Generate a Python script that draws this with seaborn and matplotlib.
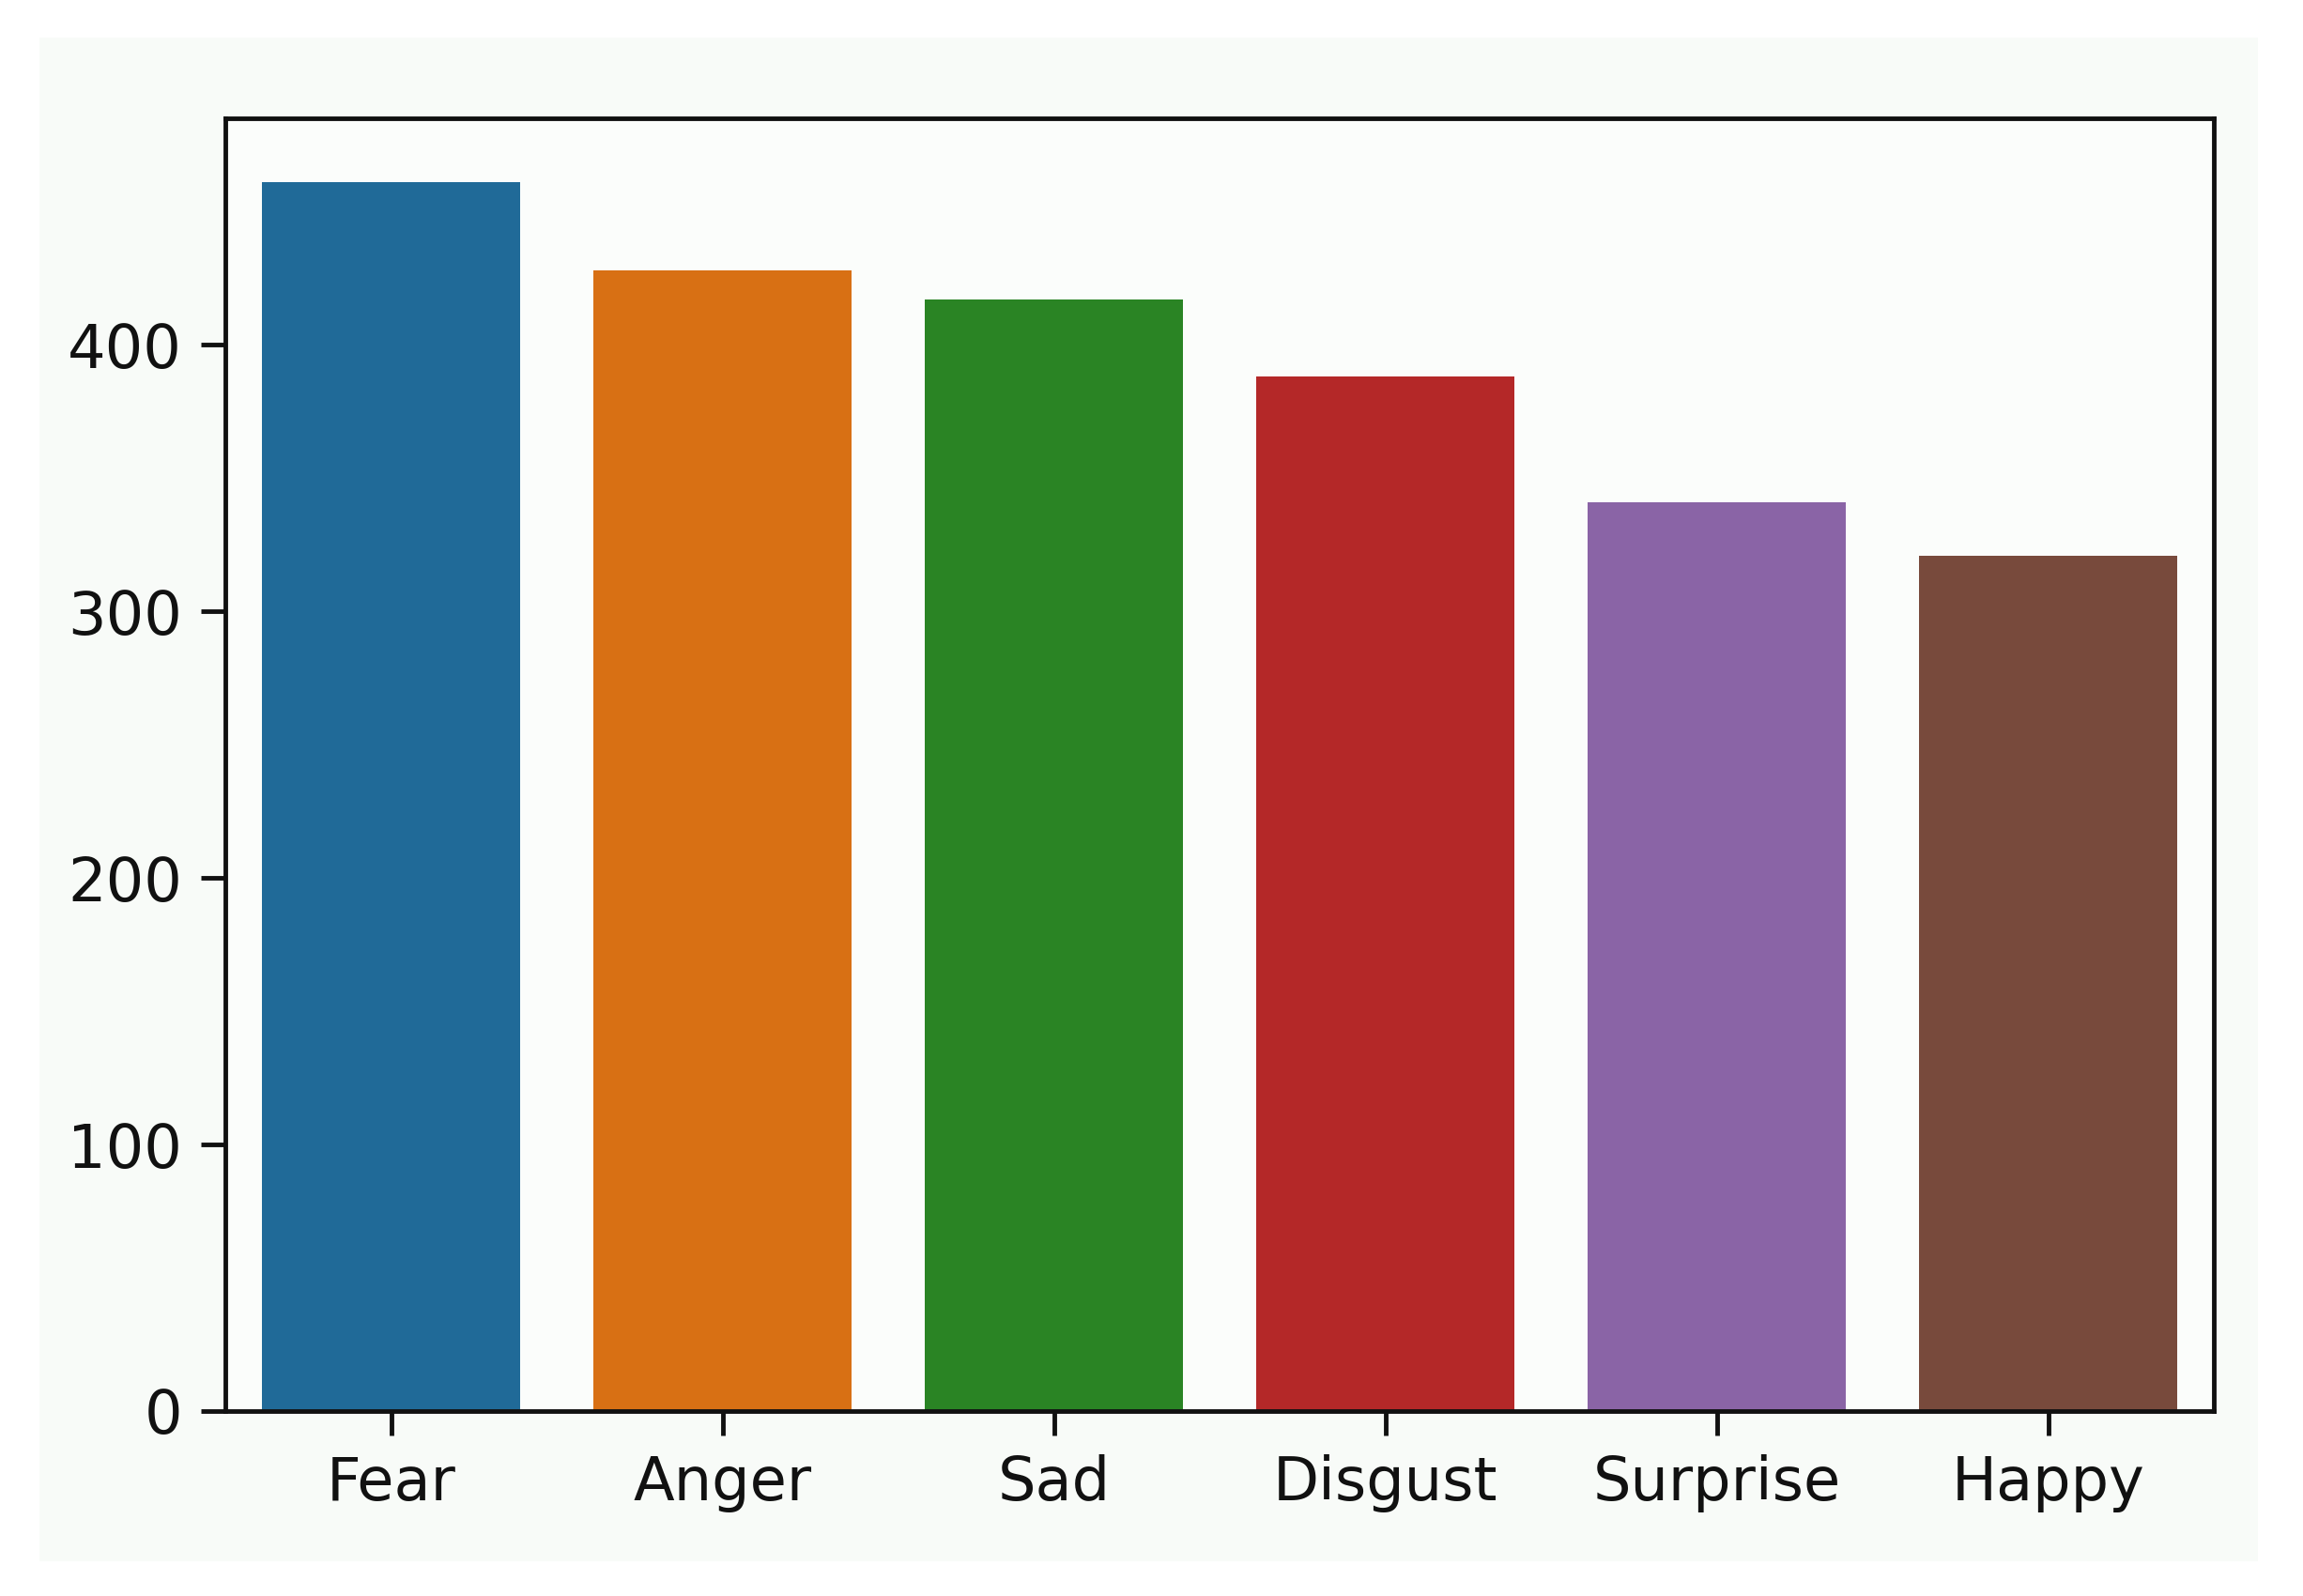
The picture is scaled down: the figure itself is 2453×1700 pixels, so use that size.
"""Emotion class counts bar chart."""
import matplotlib
matplotlib.use("Agg")
import matplotlib.pyplot as plt
import pandas as pd
import seaborn as sns

EMOTIONS = ["Fear", "Anger", "Sad", "Disgust", "Surprise", "Happy"]
COUNTS = [461, 428, 417, 388, 341, 321]
BAR_COLORS = ["#206a98", "#d87014", "#2a8424", "#b42828", "#8a64a6", "#784a3c"]
Y_TICKS = [0, 100, 200, 300, 400]

df = pd.DataFrame({"emotion": EMOTIONS, "count": COUNTS})

fig = plt.figure(figsize=(24.53, 17), dpi=100, facecolor="white")
# off-white panel behind the chart, as in the reference scan
panel = plt.Rectangle((42 / 2453, 1 - 1663 / 1700), (2405 - 42) / 2453,
                      (1663 - 40) / 1700, transform=fig.transFigure,
                      facecolor="#f8fbf8", edgecolor="none", zorder=-10)
fig.add_artist(panel)
ax = fig.add_axes([240 / 2453, 1 - 1503 / 1700, (2358 - 240) / 2453, (1503 - 126) / 1700])
ax.set_facecolor("#fbfdfb")

sns.barplot(data=df, x="emotion", y="count", hue="emotion", palette=BAR_COLORS,
            saturation=1, width=0.78, legend=False, ax=ax)

ax.set_xlim(-0.5, len(EMOTIONS) - 0.5)
ax.set_ylim(0, 485)
ax.set_yticks(Y_TICKS)
ax.set_xlabel("")
ax.set_ylabel("")
for side in ax.spines.values():
    side.set_linewidth(3.5)
    side.set_color("#111111")
ax.tick_params(axis="both", labelsize=46, length=19, width=3.5, color="#111111",
               labelcolor="#111111", pad=14)

fig.savefig("out.png", dpi=100)
